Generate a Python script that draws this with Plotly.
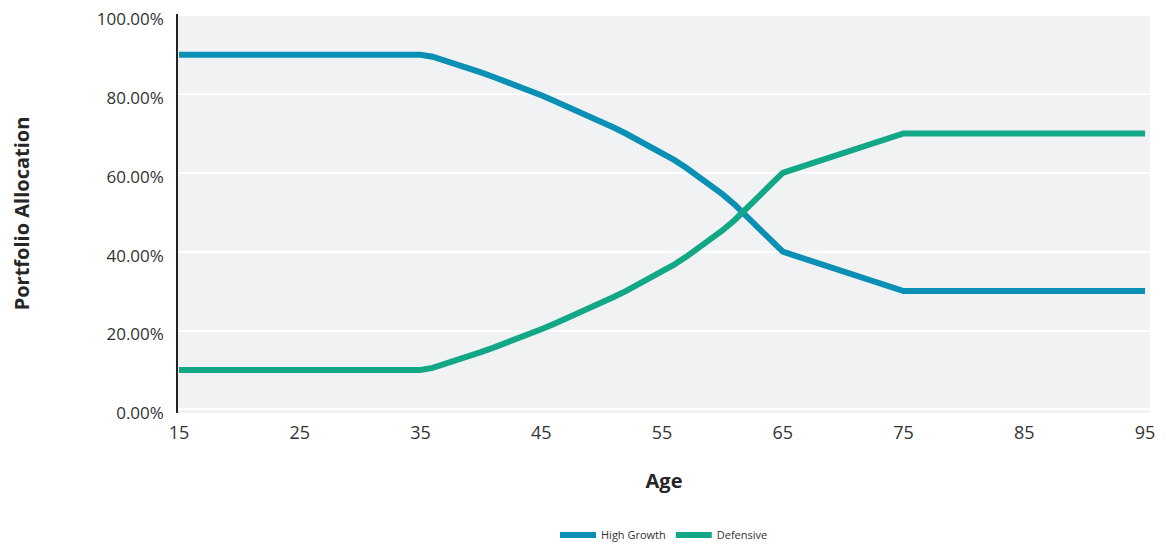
import plotly.graph_objects as go

ages = list(range(15, 96))

high_growth = [
    90, 90, 90, 90, 90, 90, 90, 90, 90, 90,   # 15-24
    90, 90, 90, 90, 90, 90, 90, 90, 90, 90,   # 25-34
    90, 89.5, 88.6, 87.6, 86.6, 85.5, 84.4, 83.3, 82.1, 80.9,  # 35-44
    79.7, 78.4, 77.1, 75.8, 74.4, 73.0, 71.5, 70.0, 68.4, 66.8,  # 45-54
    65.1, 63.3, 61.3, 59.2, 57.0, 54.6, 52.0, 49.2, 46.0, 43.0,  # 55-64
    40.0, 39, 38, 37, 36, 35, 34, 33, 32, 31,  # 65-74
    30, 30, 30, 30, 30, 30, 30, 30, 30, 30,   # 75-84
    30, 30, 30, 30, 30, 30, 30, 30, 30, 30,   # 85-94
    30,                                       # 95
]

defensive = [
    10, 10, 10, 10, 10, 10, 10, 10, 10, 10,
    10, 10, 10, 10, 10, 10, 10, 10, 10, 10,
    10, 10.5, 11.4, 12.4, 13.4, 14.5, 15.6, 16.7, 17.9, 19.1,
    20.3, 21.6, 22.9, 24.2, 25.6, 27.0, 28.5, 30.0, 31.6, 33.2,
    34.9, 36.7, 38.7, 40.8, 43.0, 45.4, 48.0, 50.8, 54.0, 57.0,
    60.0, 61, 62, 63, 64, 65, 66, 67, 68, 69,
    70, 70, 70, 70, 70, 70, 70, 70, 70, 70,
    70, 70, 70, 70, 70, 70, 70, 70, 70, 70,
    70,
]

x_ticks = [15, 25, 35, 45, 55, 65, 75, 85, 95]
y_ticks = [0, 20, 40, 60, 80, 100]
y_tick_text = ["0.00%", "20.00%", "40.00%", "60.00%", "80.00%", "100.00%"]

FONT = "Open Sans"

fig = go.Figure()
fig.add_trace(go.Scatter(x=ages, y=high_growth, mode="lines", name="High Growth",
                         line=dict(color="#0A8FB5", width=6)))
fig.add_trace(go.Scatter(x=ages, y=defensive, mode="lines", name="Defensive",
                         line=dict(color="#12A886", width=6)))

fig.update_layout(
    width=1157, height=536,
    margin=dict(l=170, r=15, t=6, b=131),
    paper_bgcolor="white",
    plot_bgcolor="#F1F2F4",
    font=dict(family=FONT, color="#333333"),
    showlegend=True,
    legend=dict(orientation="h", x=0.5, xanchor="center",
                yref="container", y=0.017, yanchor="middle",
                font=dict(size=11, color="#333333"), itemwidth=36),
    xaxis=dict(range=[14.92, 95.41], tickvals=x_ticks, showgrid=False, zeroline=False,
               showline=False, ticks="", tickfont=dict(size=18, color="#333333"),
               ticklabelstandoff=7, automargin=False,
               title=dict(text="<b>Age</b>", font=dict(size=20, color="#262626"), standoff=30)),
    yaxis=dict(range=[-0.94, 100.33], tickvals=y_ticks, ticktext=y_tick_text,
               showgrid=True, gridcolor="white", gridwidth=2, zeroline=False,
               showline=True, linecolor="#222222", linewidth=1.5, ticks="",
               tickfont=dict(size=17, color="#333333"), ticklabelstandoff=9, automargin=False,
               ticklabeloverflow="allow", ticklabelshift=4,
               title=dict(text="<b>Portfolio Allocation</b>", font=dict(size=20, color="#262626"),
                          standoff=68)),
)

fig.write_html("out.html")
